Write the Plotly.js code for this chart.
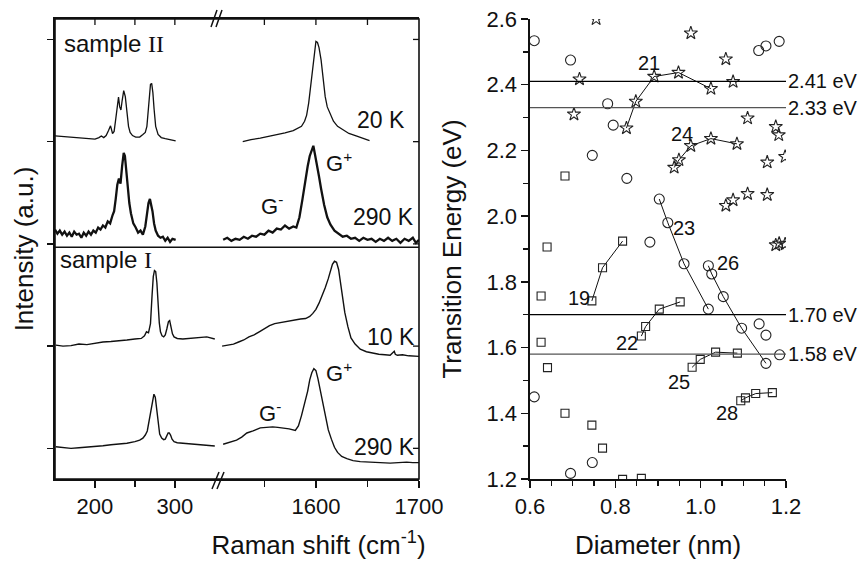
<!DOCTYPE html>
<html>
<head>
<meta charset="utf-8">
<script src="https://cdn.plot.ly/plotly-3.0.1.min.js"></script>
<style>html,body{margin:0;padding:0;background:#fff}#chart{width:863px;height:565px}</style>
</head>
<body>
<div id="chart"></div>
<script>
// ---------- Left panel: Raman spectra (y values include vertical offsets as drawn) ----------
// sample II, 20 K
var s2_20K_lo_x = [150,160,170,180,190,200,205,208,211,214,217,219.5,222,224,226,228,229.5,231,232.5,234,236,238,240,242,244,247,251,256,260,263,265,266.5,268,269.5,271,272.5,274,276,279,283,288,294,301];
var s2_20K_lo_y = [3.356,3.35,3.345,3.335,3.33,3.325,3.34,3.355,3.34,3.36,3.41,3.455,3.38,3.40,3.52,3.68,3.735,3.64,3.61,3.70,3.80,3.74,3.56,3.45,3.39,3.36,3.345,3.345,3.37,3.39,3.45,3.58,3.74,3.86,3.87,3.78,3.62,3.45,3.37,3.34,3.33,3.32,3.307];
var s2_20K_hi_x = [1529,1537,1546,1554,1562,1570,1578,1583,1586,1589,1591,1593,1595,1597,1599,1600,1601.5,1603,1605,1607,1609,1611,1614,1617,1621,1626,1632,1639,1646,1652];
var s2_20K_hi_y = [3.30,3.32,3.334,3.35,3.366,3.385,3.408,3.43,3.45,3.50,3.56,3.68,3.85,4.05,4.22,4.28,4.27,4.22,4.10,3.90,3.74,3.64,3.56,3.50,3.45,3.415,3.38,3.356,3.33,3.31];
// sample II, 290 K (noisy trace)
var s2_290K_lo_x = [150,153,156,159,162,165,168,171,174,177,180,183,186,189,192,195,198,201,204,207,210,213,216,219,222,224,226,228,230,232,234,236,237.5,239,241,243,245,248,251,254,257,260,263,265,267,268.8,270.5,272,274,276,279,282,285,288,291,294,297,301];
var s2_290K_lo_y = [2.44,2.40,2.43,2.39,2.42,2.38,2.41,2.37,2.42,2.39,2.40,2.36,2.41,2.38,2.42,2.39,2.43,2.41,2.46,2.44,2.48,2.46,2.52,2.50,2.58,2.62,2.74,2.88,2.94,2.89,3.06,3.19,3.16,3.02,2.84,2.70,2.60,2.50,2.46,2.41,2.43,2.39,2.47,2.58,2.70,2.74,2.68,2.62,2.50,2.43,2.38,2.36,2.37,2.33,2.36,2.32,2.35,2.34];
var s2_290K_hi_x = [1510,1514,1518,1522,1526,1530,1534,1538,1542,1546,1550,1554,1558,1562,1566,1570,1574,1578,1581,1584,1587,1590,1592,1594,1596,1597.5,1599,1601,1603,1605,1608,1611,1614,1618,1622,1626,1630,1634,1638,1642,1646,1650,1654,1658,1662,1666,1670,1674,1678,1682,1686,1690,1694,1697,1700];
var s2_290K_hi_y = [2.34,2.36,2.33,2.35,2.34,2.37,2.35,2.38,2.37,2.40,2.39,2.43,2.41,2.45,2.44,2.48,2.45,2.47,2.46,2.56,2.74,2.95,3.06,3.16,3.23,3.26,3.18,3.08,2.96,2.84,2.68,2.56,2.49,2.43,2.40,2.37,2.38,2.35,2.36,2.33,2.36,2.34,2.35,2.32,2.35,2.33,2.36,2.33,2.35,2.31,2.35,2.33,2.36,2.31,2.34];
// sample I, 10 K
var s1_10K_lo_x = [151,160,170,180,190,200,210,220,230,240,250,258,262,264.5,267,269.5,271.5,273,274.5,276,277.5,279,280.5,282,284,286,288,290,292,293.5,295,297,299,303,310,320,330,340,350];
var s1_10K_lo_y = [1.31,1.30,1.305,1.32,1.315,1.33,1.34,1.345,1.35,1.36,1.37,1.375,1.40,1.44,1.43,1.52,1.80,1.98,2.04,2.03,1.92,1.70,1.53,1.44,1.40,1.39,1.41,1.47,1.54,1.55,1.49,1.42,1.39,1.375,1.37,1.375,1.38,1.39,1.37];
var s1_10K_hi_x = [1509,1515,1520,1525,1530,1535,1540,1545,1550,1555,1560,1565,1570,1575,1580,1585,1590,1594,1597,1600,1603,1606,1609,1612,1614,1616,1618,1620,1622,1624,1626,1628,1631,1634,1638,1643,1649,1655,1661,1667,1672,1676,1677,1679,1684,1690,1695,1700];
var s1_10K_hi_y = [1.30,1.31,1.32,1.34,1.36,1.39,1.41,1.44,1.47,1.50,1.52,1.53,1.54,1.55,1.56,1.565,1.57,1.59,1.62,1.66,1.72,1.79,1.87,1.96,2.04,2.10,2.13,2.12,2.05,1.92,1.78,1.63,1.49,1.38,1.32,1.27,1.245,1.23,1.22,1.215,1.21,1.25,1.22,1.21,1.215,1.205,1.20,1.20];
// sample I, 290 K
var s1_290K_lo_x = [151,160,170,180,190,200,210,220,230,240,250,256,260,263,265.5,268,270,272,273.8,275.5,277,279,281,283.5,286,288,290,291.6,293,294.6,296.5,299,303,310,320,331,340,350];
var s1_290K_lo_y = [0.316,0.31,0.30,0.305,0.31,0.32,0.325,0.335,0.34,0.35,0.365,0.38,0.40,0.43,0.47,0.58,0.70,0.79,0.83,0.80,0.70,0.55,0.44,0.40,0.385,0.39,0.42,0.45,0.45,0.43,0.39,0.365,0.355,0.35,0.345,0.342,0.335,0.323];
var s1_290K_hi_x = [1510,1516,1523,1528,1533,1539,1546,1552,1558,1563,1568,1574,1580,1583,1586,1589,1592,1594,1596,1598,1600,1602,1604,1606,1609,1612,1615,1618,1621,1625,1630,1636,1643,1650,1657,1665,1672,1680,1688,1694,1700];
var s1_290K_hi_y = [0.34,0.36,0.38,0.41,0.45,0.47,0.50,0.505,0.51,0.505,0.50,0.49,0.475,0.52,0.62,0.74,0.86,0.97,1.04,1.08,1.06,0.98,0.88,0.76,0.61,0.48,0.39,0.31,0.26,0.22,0.20,0.18,0.17,0.165,0.16,0.16,0.155,0.16,0.165,0.16,0.16];
var panelDivider = 2.267;

// tick positions of the left panel
var ramanLoMinor = [250];
var ramanHiMinor = [1550,1650];
var ramanLoTop   = [200,250,300];
var ramanHiTop   = [1550,1600,1650];
var intensityTicks = [0.3,1.3,2.3,3.3,4.3];

// ---------- Right panel: transition energy vs diameter ----------
var circ_x = [0.610,0.695,0.782,0.795,0.746,0.827,0.881,1.136,1.153,1.184,1.137,1.153,1.185,0.610,0.695,0.746];
var circ_y = [2.534,2.475,2.342,2.277,2.185,2.115,1.921,2.504,2.518,2.532,1.672,1.638,1.578,1.450,1.217,1.250];
var star_x = [0.755,0.716,0.703,0.977,1.059,1.076,1.110,1.176,1.183,1.198,1.156,1.059,1.076,1.110,1.156,1.176,1.184,1.198];
var star_y = [2.600,2.417,2.310,2.557,2.478,2.409,2.298,2.272,2.247,2.181,2.164,2.032,2.049,2.068,2.065,1.912,1.917,1.915];
var sq_x = [0.682,0.640,0.626,0.626,0.641,0.682,0.745,0.770,0.817,0.861];
var sq_y = [2.122,1.906,1.757,1.616,1.539,1.400,1.364,1.294,1.199,1.202];

var fam19_x = [0.745,0.770,0.817];             var fam19_y = [1.742,1.843,1.924];
var fam21_x = [0.826,0.848,0.891,0.948,1.024]; var fam21_y = [2.268,2.349,2.425,2.437,2.388];
var fam22_x = [0.861,0.871,0.903,0.952];       var fam22_y = [1.635,1.664,1.717,1.739];
var fam23_x = [0.903,0.923,0.961,1.018];       var fam23_y = [2.052,1.980,1.855,1.717];
var fam24_x = [0.938,0.949,0.977,1.024,1.085]; var fam24_y = [2.148,2.171,2.214,2.236,2.220];
var fam25_x = [0.980,0.999,1.035,1.086];       var fam25_y = [1.540,1.564,1.586,1.583];
var fam26_x = [1.018,1.026,1.053,1.096,1.153]; var fam26_y = [1.849,1.824,1.755,1.659,1.552];
var fam28_x = [1.094,1.105,1.129,1.168];       var fam28_y = [1.438,1.447,1.460,1.463];

var famLabels   = ['19','21','22','23','24','25','26','28'];
var famLabel_x  = [0.715,0.880,0.828,0.960,0.956,0.950,1.065,1.061];
var famLabel_y  = [1.750,2.465,1.613,1.965,2.249,1.496,1.857,1.400];

var laserEnergies = [2.41,2.33,1.70,1.58];
var laserLabels   = ['2.41 eV','2.33 eV','1.70 eV','1.58 eV'];

// ---------- styling ----------
var FONT = 'Liberation Sans, Arial, sans-serif';
var INK = '#111';
var traces = [];
function spec(x, y, xa, w) {
  traces.push({x:x, y:y, xaxis:xa, yaxis:'y', mode:'lines', type:'scatter',
    line:{color:INK, width:w}, hoverinfo:'skip', showlegend:false});
}
spec(s2_20K_lo_x, s2_20K_lo_y, 'x', 1.3);
spec(s2_20K_hi_x, s2_20K_hi_y, 'x2', 1.3);
spec(s2_290K_lo_x, s2_290K_lo_y, 'x', 2.3);
spec(s2_290K_hi_x, s2_290K_hi_y, 'x2', 2.3);
spec(s1_10K_lo_x, s1_10K_lo_y, 'x', 1.4);
spec(s1_10K_hi_x, s1_10K_hi_y, 'x2', 1.4);
spec(s1_290K_lo_x, s1_290K_lo_y, 'x', 1.4);
spec(s1_290K_hi_x, s1_290K_hi_y, 'x2', 1.4);

function pts(x, y, sym, size, mode) {
  traces.push({x:x, y:y, xaxis:'x3', yaxis:'y2', type:'scatter', mode:mode,
    line:{color:INK, width:1},
    marker:{symbol:sym, size:size, color:'#222', line:{color:'#222', width:1.1}},
    hoverinfo:'skip', showlegend:false});
}
pts(circ_x, circ_y, 'circle-open', 10, 'markers');
pts(star_x, star_y, 'star-open', 10, 'markers');
pts(sq_x, sq_y, 'square-open', 8, 'markers');
pts(fam19_x, fam19_y, 'square-open', 8, 'lines+markers');
pts(fam21_x, fam21_y, 'star-open', 10, 'lines+markers');
pts(fam22_x, fam22_y, 'square-open', 8, 'lines+markers');
pts(fam23_x, fam23_y, 'circle-open', 10, 'lines+markers');
pts(fam24_x, fam24_y, 'star-open', 10, 'lines+markers');
pts(fam25_x, fam25_y, 'square-open', 8, 'lines+markers');
pts(fam26_x, fam26_y, 'circle-open', 10, 'lines+markers');
pts(fam28_x, fam28_y, 'square-open', 8, 'lines+markers');

var W = 863, H = 565, ML = 55, MR = 77, MT = 19, MB = 86;
var PW = W - ML - MR, PH = H - MT - MB;
function px(p) { return (p - ML) / PW; }
function py(p) { return (H - MB - p) / PH; }

var axBase = {showline:true, linecolor:INK, linewidth:1.6, mirror:false, showgrid:false, zeroline:false,
  ticks:'outside', tickcolor:INK, tickwidth:1.3, ticklen:7,
  tickfont:{family:FONT, size:22, color:INK}};
function ax(o) { return Object.assign({}, axBase, o); }
function minorTicks(dir, vals) { return {tickmode:'array', tickvals:vals, ticks:dir, ticklen:6, tickcolor:INK, tickwidth:1.3}; }

var splitL = px(218), rightL = px(419), p2L = px(530);

var shapes = [];
// full frame of the left panel
shapes.push({type:'rect', xref:'paper', yref:'paper', x0:0, x1:rightL, y0:0, y1:1, layer:'above',
  fillcolor:'rgba(0,0,0,0)', line:{color:INK, width:1.6}});
// sample divider
shapes.push({type:'line', xref:'paper', yref:'paper', x0:0, x1:rightL, y0:panelDivider/4.5, y1:panelDivider/4.5, layer:'above', line:{color:INK, width:1.6}});
// inward ticks on top and right edges of the left panel (paper coordinates)
var tk = {color:INK, width:1.3};
function pxOfLo(v){ return (v - 150) / (354 - 150) * splitL; }
function pxOfHi(v){ return splitL + (v - 1505) / (1700 - 1505) * (rightL - splitL); }
ramanLoTop.forEach(function(v){ var xp = pxOfLo(v); shapes.push({type:'line', xref:'paper', yref:'paper', x0:xp, x1:xp, y0:1, y1:1 - 6/PH, layer:'above', line:tk}); });
ramanHiTop.forEach(function(v){ var xp = pxOfHi(v); shapes.push({type:'line', xref:'paper', yref:'paper', x0:xp, x1:xp, y0:1, y1:1 - 6/PH, layer:'above', line:tk}); });
intensityTicks.forEach(function(v){ shapes.push({type:'line', xref:'paper', yref:'paper', x0:rightL, x1:rightL - 6/PW, y0:v/4.5, y1:v/4.5, layer:'above', line:tk}); });
// axis-break marks
[[212,489,219,472],[217,489,224,472],[211,27,217,10],[216,27,222,10]].forEach(function(s){
  shapes.push({type:'line', xref:'paper', yref:'paper', x0:px(s[0]), y0:py(s[1]), x1:px(s[2]), y1:py(s[3]), layer:'above', line:{color:INK, width:1.5}});
});
var laserColors = ['#000','#555','#000','#555'];
laserEnergies.forEach(function(e, i){
  shapes.push({type:'line', xref:'x3', yref:'y2', x0:0.6, x1:1.2, y0:e, y1:e, line:{color:laserColors[i], width:1.2}});
});

var annotations = [];
function lab(text, x, y, xref, yref, xanchor, size) {
  annotations.push({text:text, x:x, y:y, xref:xref, yref:yref, xanchor:xanchor, yanchor:'middle',
    showarrow:false, font:{family:FONT, size:size, color:INK}});
}
var SERIF = "Liberation Serif, 'Times New Roman', serif";
lab('sample <span style="font-family:' + SERIF + '">II</span>', 158.5, 4.256, 'x', 'y', 'left', 24);
lab('sample <span style="font-family:' + SERIF + '">I</span>', 154, 2.143, 'x', 'y', 'left', 24);
lab('20 K', 1688, 3.513, 'x2', 'y', 'right', 23);
lab('290 K', 1697, 2.564, 'x2', 'y', 'right', 23);
lab('10 K', 1698, 1.389, 'x2', 'y', 'right', 23);
lab('290 K', 1698, 0.313, 'x2', 'y', 'right', 23);
lab('G<sup>+</sup>', 1608, 3.10, 'x2', 'y', 'left', 22);
lab('G<sup>-</sup>', 1545, 2.68, 'x2', 'y', 'left', 22);
lab('G<sup>+</sup>', 1608, 1.05, 'x2', 'y', 'left', 22);
lab('G<sup>-</sup>', 1543, 0.655, 'x2', 'y', 'left', 22);
famLabels.forEach(function(t, i){ lab(t, famLabel_x[i], famLabel_y[i], 'x3', 'y2', 'center', 20); });
laserLabels.forEach(function(t, i){
  annotations.push({text:t, x:1, y:laserEnergies[i], xref:'paper', yref:'y2', xanchor:'left', yanchor:'middle',
    xshift:0, showarrow:false, font:{family:FONT, size:20, color:INK}});
});

var titleFont = {family:FONT, size:26, color:INK};
var layout = {
  width:W, height:H, margin:{l:ML, r:MR, t:MT, b:MB},
  paper_bgcolor:'#fff', plot_bgcolor:'rgba(0,0,0,0)', showlegend:false,
  font:{family:FONT, color:INK},
  xaxis: ax({domain:[0, splitL], anchor:'y', range:[150, 354], tickmode:'linear', tick0:200, dtick:100, mirror:true,
    minor:minorTicks('outside', ramanLoMinor)}),
  xaxis2: ax({domain:[splitL, rightL], anchor:'y', range:[1505, 1700], tickmode:'linear', tick0:1600, dtick:100, mirror:true,
    minor:minorTicks('outside', ramanHiMinor),
    title:{text:'Raman shift (cm<sup>-1</sup>)', font:titleFont, standoff:18}}),
  yaxis: ax({domain:[0,1], anchor:'x', range:[0, 4.5], tickmode:'array', tickvals:intensityTicks, showticklabels:false, ticklen:6,
    title:{text:'Intensity (a.u.)', font:titleFont, standoff:6}}),
  xaxis3: ax({domain:[p2L, 1], anchor:'y2', range:[0.6, 1.2], tickmode:'linear', tick0:0.6, dtick:0.2, tickformat:'.1f',
    minor:{dtick:0.05, tick0:0.6, ticks:'outside', ticklen:5, tickcolor:INK, tickwidth:1.3},
    title:{text:'Diameter (nm)', font:titleFont, standoff:18}}),
  xaxis6: ax({overlaying:'x3', side:'top', anchor:'y2', range:[0.6, 1.2], tickmode:'linear', tick0:0.6, dtick:0.2, showticklabels:false, ticks:'inside', ticklen:6,
    minor:{dtick:0.05, tick0:0.6, ticks:'inside', ticklen:5, tickcolor:INK, tickwidth:1.3}}),
  yaxis2: ax({domain:[0,1], anchor:'x3', range:[1.2, 2.6], tickmode:'linear', tick0:1.2, dtick:0.2, tickformat:'.1f',
    minor:{dtick:0.1, tick0:1.2, ticks:'outside', ticklen:5, tickcolor:INK, tickwidth:1.3},
    title:{text:'Transition Energy (eV)', font:titleFont, standoff:17}}),
  yaxis4: ax({overlaying:'y2', side:'right', anchor:'x3', range:[1.2, 2.6], tickmode:'linear', tick0:1.2, dtick:0.2, showticklabels:false, ticks:'inside', ticklen:6,
    minor:{dtick:0.1, tick0:1.2, ticks:'inside', ticklen:5, tickcolor:INK, tickwidth:1.3}}),
  shapes:shapes, annotations:annotations
};
Plotly.newPlot('chart', traces, layout, {displayModeBar:false, staticPlot:true});
</script>
</body>
</html>
